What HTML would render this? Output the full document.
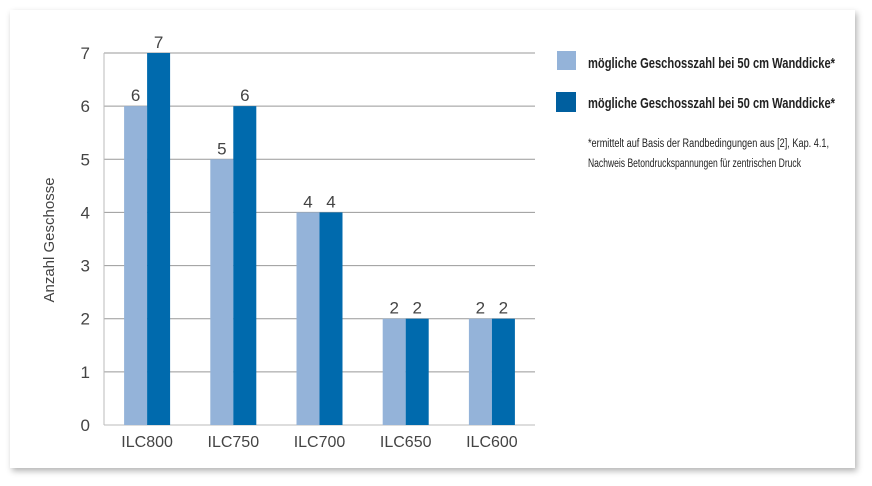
<!DOCTYPE html>
<html><head><meta charset="utf-8"><style>
body{margin:0;width:872px;height:486px;background:#fff;overflow:hidden;font-family:"Liberation Sans",sans-serif}
#card{position:absolute;left:10px;top:10px;width:845px;height:458px;background:#fff;box-shadow:2px 3px 6px rgba(0,0,0,0.3)}
.leg{position:absolute;left:588px;font-family:"Liberation Sans",sans-serif;font-weight:bold;font-size:15px;color:#222;white-space:nowrap;transform-origin:0 0}
.note{position:absolute;left:588px;font-family:"Liberation Sans",sans-serif;font-size:11.5px;color:#222;white-space:nowrap;transform-origin:0 0}
</style></head><body>
<div id="card"></div>
<svg id="chart" width="872" height="486" style="position:absolute;left:0;top:0"></svg>
<div style="position:absolute;left:557px;top:51px;width:19px;height:19px;background:#94b3d9"></div>
<div class="leg" data-fit="247" style="top:55px">mögliche Geschosszahl bei 50 cm Wanddicke*</div>
<div style="position:absolute;left:556px;top:92px;width:20px;height:20px;background:#005f9f"></div>
<div class="leg" data-fit="247" style="top:95px">mögliche Geschosszahl bei 50 cm Wanddicke*</div>
<div class="note" data-fit="241" style="top:138px">*ermittelt auf Basis der Randbedingungen aus [2], Kap. 4.1,</div>
<div class="note" data-fit="213" style="top:158px">Nachweis Betondruckspannungen für zentrischen Druck</div>
<script>
const categories=["ILC800","ILC750","ILC700","ILC650","ILC600"];
const seriesLight=[6,5,4,2,2];
const seriesDark=[7,6,4,2,2];
const yTicks=[0,1,2,3,4,5,6,7];
const svg=document.getElementById('chart');
const NS='http://www.w3.org/2000/svg';
const x0=104,x1=535,y0=425,yTop=53,yMax=7;
const band=(x1-x0)/categories.length;
const y=v=>y0-(y0-yTop)*v/yMax;
function mk(t,a,txt){const e=document.createElementNS(NS,t);for(const k in a)e.setAttribute(k,a[k]);if(txt!==undefined)e.textContent=txt;svg.appendChild(e);return e;}
yTicks.forEach(t=>{
 const l=mk('line',{x1:x0,x2:x1,y1:y(t),y2:y(t),stroke:t===0?'#bbb':'#999','stroke-width':1});
 
 
 const tx=mk('text',{x:90,y:y(t)+6,'text-anchor':'end','font-size':17,fill:'#444'},t);
 
 
});
const ax=mk('line',{x1:x0,x2:x0,y1:yTop,y2:y0,stroke:'#bbb'});


const bw=23;
categories.forEach((c,i)=>{
 const cx=x0+band*i+band/2;
 [[seriesLight[i],'#94b3d9',cx-bw,'light'],[seriesDark[i],'#006aad',cx,'dark']].forEach(([v,col,bx,n])=>{
  const r=mk('rect',{x:bx,y:y(v),width:bw,height:y0-y(v),fill:col});
  
  
  const t=mk('text',{x:bx+bw/2,y:y(v)-5,'text-anchor':'middle','font-size':17,fill:'#444'},v);
  
  
 });
 const cl=mk('text',{x:cx,y:447,'text-anchor':'middle','font-size':16,fill:'#444'},c);
 
 
});
const yt=mk('text',{x:0,y:0,transform:'translate(54,240) rotate(-90)','text-anchor':'middle','font-size':15,fill:'#444'},'Anzahl Geschosse');


document.querySelectorAll('[data-fit]').forEach(el=>{
 const w=el.getBoundingClientRect().width;
 const target=parseFloat(el.getAttribute('data-fit'));
 el.style.transform='scaleX('+(target/w)+')';
});
</script>
</body></html>
